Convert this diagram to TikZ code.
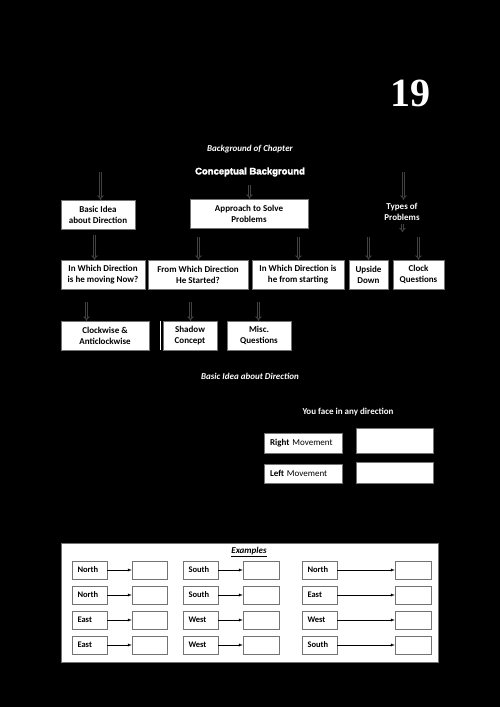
\documentclass[tikz,border=0pt]{standalone}
\usepackage{fontspec}
\setmainfont{Carlito}
\newfontfamily\numfont{Liberation Serif}
\newfontfamily\headfont[FakeBold=2.5]{Liberation Sans}
\usetikzlibrary{calc,arrows.meta}
\definecolor{arrowgrey}{gray}{0.26}
\definecolor{edgegrey}{gray}{0.45}

\begin{document}
\begin{tikzpicture}[x=1pt,y=-1pt,>=latex,
	topic/.style={draw=edgegrey,fill=white,text=black,align=center,inner sep=0pt,
		font=\bfseries\fontsize{9}{11}\selectfont},
	caption/.style={text=white,font=\bfseries\itshape\fontsize{9}{11}\selectfont},
	dblarrow/.style={draw=arrowgrey,double=black,double distance=1.2pt,line width=0.9pt,-{Implies}},
	movebox/.style={draw=edgegrey,fill=white,text=black,text width=66pt,align=left,
		inner sep=0pt,inner xsep=6pt,minimum width=78pt,font=\fontsize{9}{10}\selectfont},
	answer/.style={draw=edgegrey,fill=white,minimum width=77pt,inner sep=0pt},
	exlabel/.style={draw=edgegrey,fill=white,text=black,text width=24pt,align=left,
		inner sep=0pt,inner xsep=5.5pt,minimum height=18.5pt,font=\bfseries\fontsize{8.5}{9}\selectfont},
	exanswer/.style={draw=edgegrey,fill=white,minimum width=36pt,minimum height=18.5pt,inner sep=0pt}]
	\useasboundingbox[fill=black] (0,0) rectangle (500,707);

	% Chapter heading
	\node[text=white,font=\numfont\bfseries\fontsize{40}{40}\selectfont] (chapnum) at (410,93) {19};
	\node[caption] (bgchap) at (250,149) {Background of Chapter};
	\node[text=white,font=\headfont\bfseries\fontsize{9.5}{11}\selectfont] (concept) at (250,172) {Conceptual Background};

	% First level
	\node[topic,minimum width=74pt,minimum height=29pt] (basic) at (98,214.5) {Basic Idea\\about Direction};
	\node[topic,minimum width=118pt,minimum height=29pt] (approach) at (249,213.5) {Approach to Solve\\Problems};
	\node[text=white,align=center,font=\bfseries\fontsize{9}{11}\selectfont] (types) at (402,212) {Types of\\Problems};

	% Second level
	\node[topic,minimum width=84pt,minimum height=29pt] (moving) at (103,274.5) {In Which Direction\\is he moving Now?};
	\node[topic,minimum width=100pt,minimum height=29pt] (started) at (198,274.5) {From Which Direction\\He Started?};
	\node[topic,minimum width=92pt,minimum height=29pt] (fromstart) at (298,274.5) {In Which Direction is\\he from starting};
	\node[topic,minimum width=39pt,minimum height=29pt] (upside) at (368.5,274.5) {Upside\\Down};
	\node[topic,minimum width=51pt,minimum height=29pt] (clock) at (418.5,274.5) {Clock\\Questions};

	% Third level
	\node[topic,minimum width=88pt,minimum height=29pt] (clockwise) at (105,335.5) {Clockwise \&\\Anticlockwise};
	\node[topic,minimum width=54pt,minimum height=29pt] (shadow) at (190,335.5) {Shadow\\Concept};
	\node[topic,minimum width=64pt,minimum height=29pt] (misc) at (259,335.5) {Misc.\\Questions};
	\draw[white,line width=1pt] ($(shadow.north west)+(-2,0)$) -- ($(shadow.south west)+(-2,0)$);

	% connectors
	\coordinate (basictop) at (100.5,172);
	\coordinate (approachtop) at (249.5,185);
	\coordinate (typestop) at (403.5,172);
	\draw[dblarrow] (basictop) -- (basictop |- basic.north);
	\draw[dblarrow] (approachtop) -- (approachtop |- approach.north);
	\draw[dblarrow] (typestop) -- (typestop |- types.north);
	\draw[dblarrow] ($(basic.south)+(-3.5,6)$) coordinate (bm) -- (bm |- moving.north);
	\draw[dblarrow] ($(approach.south -| started.north)+(0.5,9)$) coordinate (as) -- (as |- started.north);
	\draw[dblarrow] ($(approach.south -| fromstart.north)+(0.5,9)$) coordinate (af) -- (af |- fromstart.north);
	\draw[dblarrow] ($(approach.south -| upside.north)+(0,9)$) -- (upside.north);
	\draw[dblarrow] ($(types.south)+(0.5,0)$) -- ++(0,8);
	\draw[dblarrow] ($(approach.south -| clock.north)+(0,9)$) -- (clock.north);
	\draw[dblarrow] ($(moving.south)+(-16.5,13)$) coordinate (cw) -- (cw |- clockwise.north);
	\draw[dblarrow] ($(started.south -| shadow.north)+(0.5,13)$) coordinate (ss) -- (ss |- shadow.north);
	\draw[dblarrow] ($(fromstart.south -| misc.north)+(-0.5,13)$) coordinate (fm) -- (fm |- misc.north);

	% Basic idea about direction
	\node[caption] (basichead) at (250,376) {Basic Idea about Direction};
	\node[text=white,font=\bfseries\fontsize{9}{10}\selectfont] (face) at (348,412) {You face in any direction};
	\node[movebox,minimum height=20pt] (rightmove) at (303,443) {\textbf{Right} Movement};
	\node[answer,minimum height=25pt] (rightans) at (394.5,440.5) {};
	\node[movebox,minimum height=19.5pt] (leftmove) at (303,473.5) {\textbf{Left} Movement};
	\node[answer,minimum height=21.5pt] (leftans) at (394.5,472.5) {};

	% Examples
	\node[draw=edgegrey,fill=white,minimum width=377pt,minimum height=119pt] (panel) at (249.5,602.5) {};
	\node[text=black,font=\bfseries\itshape\fontsize{9}{10}\selectfont] (exhead) at (249,552) {\underline{Examples}};
	\foreach \a/\b/\c [count=\i] in {North/South/North,North/South/East,East/West/West,East/West/South}{
		\pgfmathsetmacro{\rowy}{545+25*\i}
		\node[exlabel] (la\i) at (89.5,\rowy) {\a};
		\node[exanswer,minimum width=35pt] (aa\i) at (149.5,\rowy) {};
		\node[exlabel] (lb\i) at (200.5,\rowy) {\b};
		\node[exanswer] (ab\i) at (261,\rowy) {};
		\node[exlabel] (lc\i) at (319.5,\rowy) {\c};
		\node[exanswer] (ac\i) at (413,\rowy) {};
		\draw[->] (la\i) -- (aa\i);
		\draw[->] (lb\i) -- (ab\i);
		\draw[->] (lc\i) -- (ac\i);
	}
\end{tikzpicture}
\end{document}
